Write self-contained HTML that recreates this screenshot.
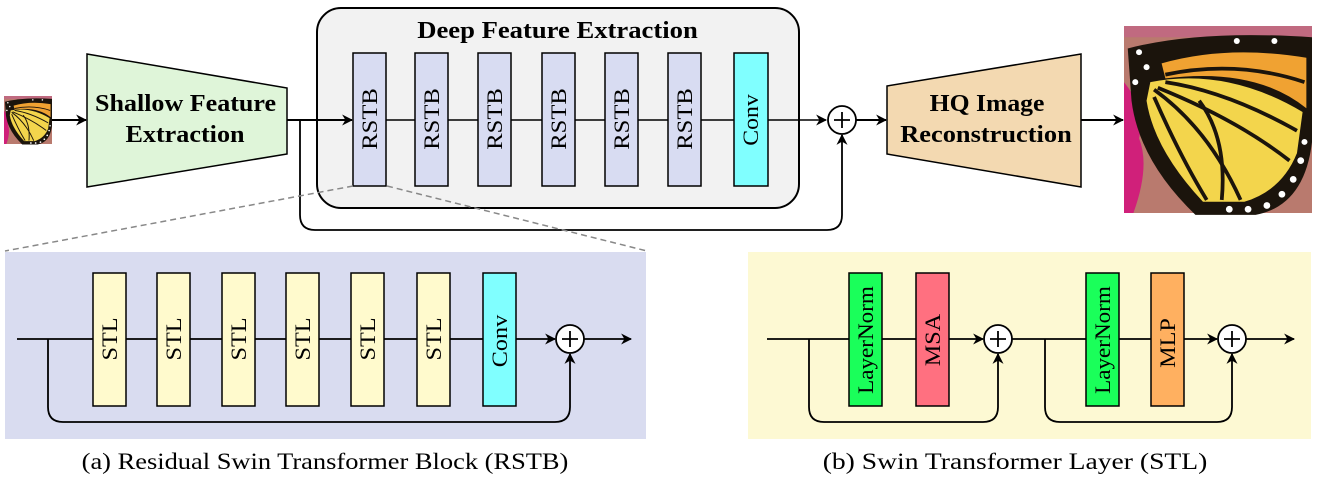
<!DOCTYPE html>
<html><head><meta charset="utf-8"><style>
html,body{margin:0;padding:0;background:#fff;}
svg{display:block;font-family:"Liberation Serif",serif;}
</style></head><body>
<svg width="1318" height="491" viewBox="0 0 1318 491" xmlns="http://www.w3.org/2000/svg">
<defs>
<marker id="ah" viewBox="0 0 10 10" refX="9" refY="5" markerWidth="11" markerHeight="11" markerUnits="userSpaceOnUse" orient="auto">
<path d="M0,0 L10,5 L0,10 L3,5 Z" fill="#000"/></marker>
<g id="bfly">
<rect x="0" y="0" width="100" height="100" fill="#b97a6e"/>
<path d="M0,30 Q12,45 8,60 Q14,75 5,100 L0,100 Z" fill="#d0207a"/>
<rect x="0" y="0" width="100" height="6" fill="#c06a80"/>
<path d="M2,12 Q40,2 100,6 L100,62 Q96,96 70,101 L38,101 Q8,72 4,40 Z" fill="#1b140c"/>
<path d="M20,20 Q55,10 97,17 L97,44 Q70,22 22,28 Z" fill="#f0a232"/>
<path d="M14,30 Q55,22 95,46 L92,68 Q84,88 64,94 L42,94 Q16,66 12,40 Z" fill="#f3d54c"/>
<g stroke="#1b140c" stroke-width="2" fill="none">
<path d="M16,34 Q45,55 62,93"/><path d="M18,33 Q60,50 88,72"/><path d="M22,30 Q55,35 92,56"/>
<path d="M16,38 Q30,70 44,93"/><path d="M40,40 Q55,60 52,93"/><path d="M22,26 Q60,18 96,30"/>
</g>
<g fill="#fff"><circle cx="8" cy="14" r="1.6"/><circle cx="12" cy="22" r="1.6"/><circle cx="6" cy="30" r="1.6"/>
<circle cx="94" cy="72" r="1.8"/><circle cx="90" cy="82" r="1.8"/><circle cx="84" cy="90" r="1.8"/><circle cx="76" cy="96" r="1.8"/><circle cx="66" cy="98" r="1.8"/><circle cx="56" cy="98" r="1.8"/><circle cx="96" cy="62" r="1.6"/><circle cx="60" cy="8" r="1.6"/><circle cx="80" cy="8" r="1.6"/></g>
</g>
</defs>

<g transform="translate(4,96) scale(0.48)"><use href="#bfly"/></g>
<line x1="52" y1="120" x2="86" y2="120" stroke="#000" stroke-width="2" marker-end="url(#ah)"/>

<polygon points="87,54 287,88 287,154 87,187" fill="#dff5d9" stroke="#000" stroke-width="1.5"/>
<g font-size="24" font-weight="bold" text-anchor="middle">
<text transform="translate(185.5,111) scale(1.085,1)">Shallow Feature</text>
<text transform="translate(185,142) scale(1.09,1)">Extraction</text>
</g>

<rect x="317" y="8" width="482" height="200" rx="24" fill="#f2f2f2" stroke="#000" stroke-width="2"/>
<text transform="translate(557.5,38) scale(1.11,1)" font-size="24" font-weight="bold" text-anchor="middle">Deep Feature Extraction</text>
<line x1="287" y1="120" x2="352" y2="120" stroke="#000" stroke-width="2" marker-end="url(#ah)"/>
<line x1="386" y1="120" x2="826" y2="120" stroke="#000" stroke-width="1.5" marker-end="url(#ah)"/>
<g stroke="#000" stroke-width="1.5" fill="#d8dcf2">
<rect x="353" y="53" width="33" height="133"/><rect x="415" y="53" width="33" height="133"/>
<rect x="478" y="53" width="33" height="133"/><rect x="542" y="53" width="33" height="133"/>
<rect x="605" y="53" width="33" height="133"/><rect x="668" y="53" width="33" height="133"/>
<rect x="734" y="53" width="34" height="133" fill="#80ffff"/>
</g>
<g font-size="22" text-anchor="middle">
<text transform="translate(377,119) rotate(-90) scale(1.12,1)">RSTB</text>
<text transform="translate(439,119) rotate(-90) scale(1.12,1)">RSTB</text>
<text transform="translate(502,119) rotate(-90) scale(1.12,1)">RSTB</text>
<text transform="translate(566,119) rotate(-90) scale(1.12,1)">RSTB</text>
<text transform="translate(629,119) rotate(-90) scale(1.12,1)">RSTB</text>
<text transform="translate(692,119) rotate(-90) scale(1.12,1)">RSTB</text>
<text transform="translate(758,120) rotate(-90) scale(1.08,1)">Conv</text>
</g>
<circle cx="842" cy="120" r="14" fill="#fff" stroke="#000" stroke-width="1.8"/>
<path d="M834,120 H850 M842,112 V128" stroke="#000" stroke-width="1.8"/>
<path d="M300,120 V215 Q300,230 315,230 H827 Q842,230 842,215 V135" fill="none" stroke="#000" stroke-width="1.8" marker-end="url(#ah)"/>
<line x1="856" y1="120" x2="886" y2="120" stroke="#000" stroke-width="2" marker-end="url(#ah)"/>

<polygon points="887,86 1081,54 1081,187 887,154" fill="#f3d9b1" stroke="#000" stroke-width="1.5"/>
<g font-size="24" font-weight="bold" text-anchor="middle">
<text transform="translate(987,111) scale(1.07,1)">HQ Image</text>
<text transform="translate(986,142) scale(1.1,1)">Reconstruction</text>
</g>
<line x1="1081" y1="120" x2="1123" y2="120" stroke="#000" stroke-width="2" marker-end="url(#ah)"/>
<g transform="translate(1124,26) scale(1.88,1.87)"><use href="#bfly"/></g>

<line x1="353" y1="186" x2="5" y2="251" stroke="#888" stroke-width="1.5" stroke-dasharray="6,4"/>
<line x1="387" y1="186" x2="647" y2="251" stroke="#888" stroke-width="1.5" stroke-dasharray="6,4"/>

<rect x="5" y="252" width="641" height="187" fill="#d9dcf0"/>
<line x1="17" y1="339" x2="555" y2="339" stroke="#000" stroke-width="1.8" marker-end="url(#ah)"/>
<g stroke="#000" stroke-width="1.5" fill="#fffacd">
<rect x="93" y="273" width="33" height="133"/><rect x="157" y="273" width="33" height="133"/>
<rect x="222" y="273" width="33" height="133"/><rect x="286" y="273" width="33" height="133"/>
<rect x="351" y="273" width="33" height="133"/><rect x="417" y="273" width="33" height="133"/>
<rect x="483" y="273" width="33" height="133" fill="#80ffff"/>
</g>
<g font-size="22" text-anchor="middle">
<text transform="translate(117,339) rotate(-90) scale(1.1,1)">STL</text>
<text transform="translate(181,339) rotate(-90) scale(1.1,1)">STL</text>
<text transform="translate(246,339) rotate(-90) scale(1.1,1)">STL</text>
<text transform="translate(310,339) rotate(-90) scale(1.1,1)">STL</text>
<text transform="translate(375,339) rotate(-90) scale(1.1,1)">STL</text>
<text transform="translate(441,339) rotate(-90) scale(1.1,1)">STL</text>
<text transform="translate(507,341) rotate(-90) scale(1.1,1)">Conv</text>
</g>
<circle cx="570" cy="339" r="14" fill="#fff" stroke="#000" stroke-width="1.8"/>
<path d="M562,339 H578 M570,331 V347" stroke="#000" stroke-width="1.8"/>
<path d="M48,339 V407 Q48,422 63,422 H555 Q570,422 570,407 V354" fill="none" stroke="#000" stroke-width="1.8" marker-end="url(#ah)"/>
<line x1="584" y1="339" x2="631" y2="339" stroke="#000" stroke-width="1.8" marker-end="url(#ah)"/>
<text transform="translate(325,469) scale(1.15,1)" font-size="23" text-anchor="middle">(a) Residual Swin Transformer Block (RSTB)</text>

<rect x="748" y="252" width="563" height="187" fill="#fdf9d3"/>
<line x1="767" y1="339" x2="983" y2="339" stroke="#000" stroke-width="1.8" marker-end="url(#ah)"/>
<line x1="1012" y1="339" x2="1217" y2="339" stroke="#000" stroke-width="1.8" marker-end="url(#ah)"/>
<line x1="1246" y1="339" x2="1294" y2="339" stroke="#000" stroke-width="1.8" marker-end="url(#ah)"/>
<g stroke="#000" stroke-width="1.5">
<rect x="849" y="273" width="33" height="133" fill="#1aff5a"/>
<rect x="916" y="273" width="33" height="133" fill="#ff7080"/>
<rect x="1086" y="273" width="33" height="133" fill="#1aff5a"/>
<rect x="1151" y="273" width="33" height="133" fill="#ffb060"/>
</g>
<g font-size="22" text-anchor="middle">
<text transform="translate(873,340) rotate(-90) scale(1.05,1)">LayerNorm</text>
<text transform="translate(940,340) rotate(-90) scale(1.1,1)">MSA</text>
<text transform="translate(1110,340) rotate(-90) scale(1.05,1)">LayerNorm</text>
<text transform="translate(1175,343) rotate(-90) scale(1.1,1)">MLP</text>
</g>
<circle cx="998" cy="339" r="14" fill="#fff" stroke="#000" stroke-width="1.8"/>
<path d="M990,339 H1006 M998,331 V347" stroke="#000" stroke-width="1.8"/>
<circle cx="1232" cy="339" r="14" fill="#fff" stroke="#000" stroke-width="1.8"/>
<path d="M1224,339 H1240 M1232,331 V347" stroke="#000" stroke-width="1.8"/>
<path d="M809,339 V407 Q809,422 824,422 H983 Q998,422 998,407 V354" fill="none" stroke="#000" stroke-width="1.8" marker-end="url(#ah)"/>
<path d="M1045,339 V407 Q1045,422 1060,422 H1217 Q1232,422 1232,407 V354" fill="none" stroke="#000" stroke-width="1.8" marker-end="url(#ah)"/>
<text transform="translate(1015,469) scale(1.2,1)" font-size="23" text-anchor="middle">(b) Swin Transformer Layer (STL)</text>
</svg>
</body></html>
